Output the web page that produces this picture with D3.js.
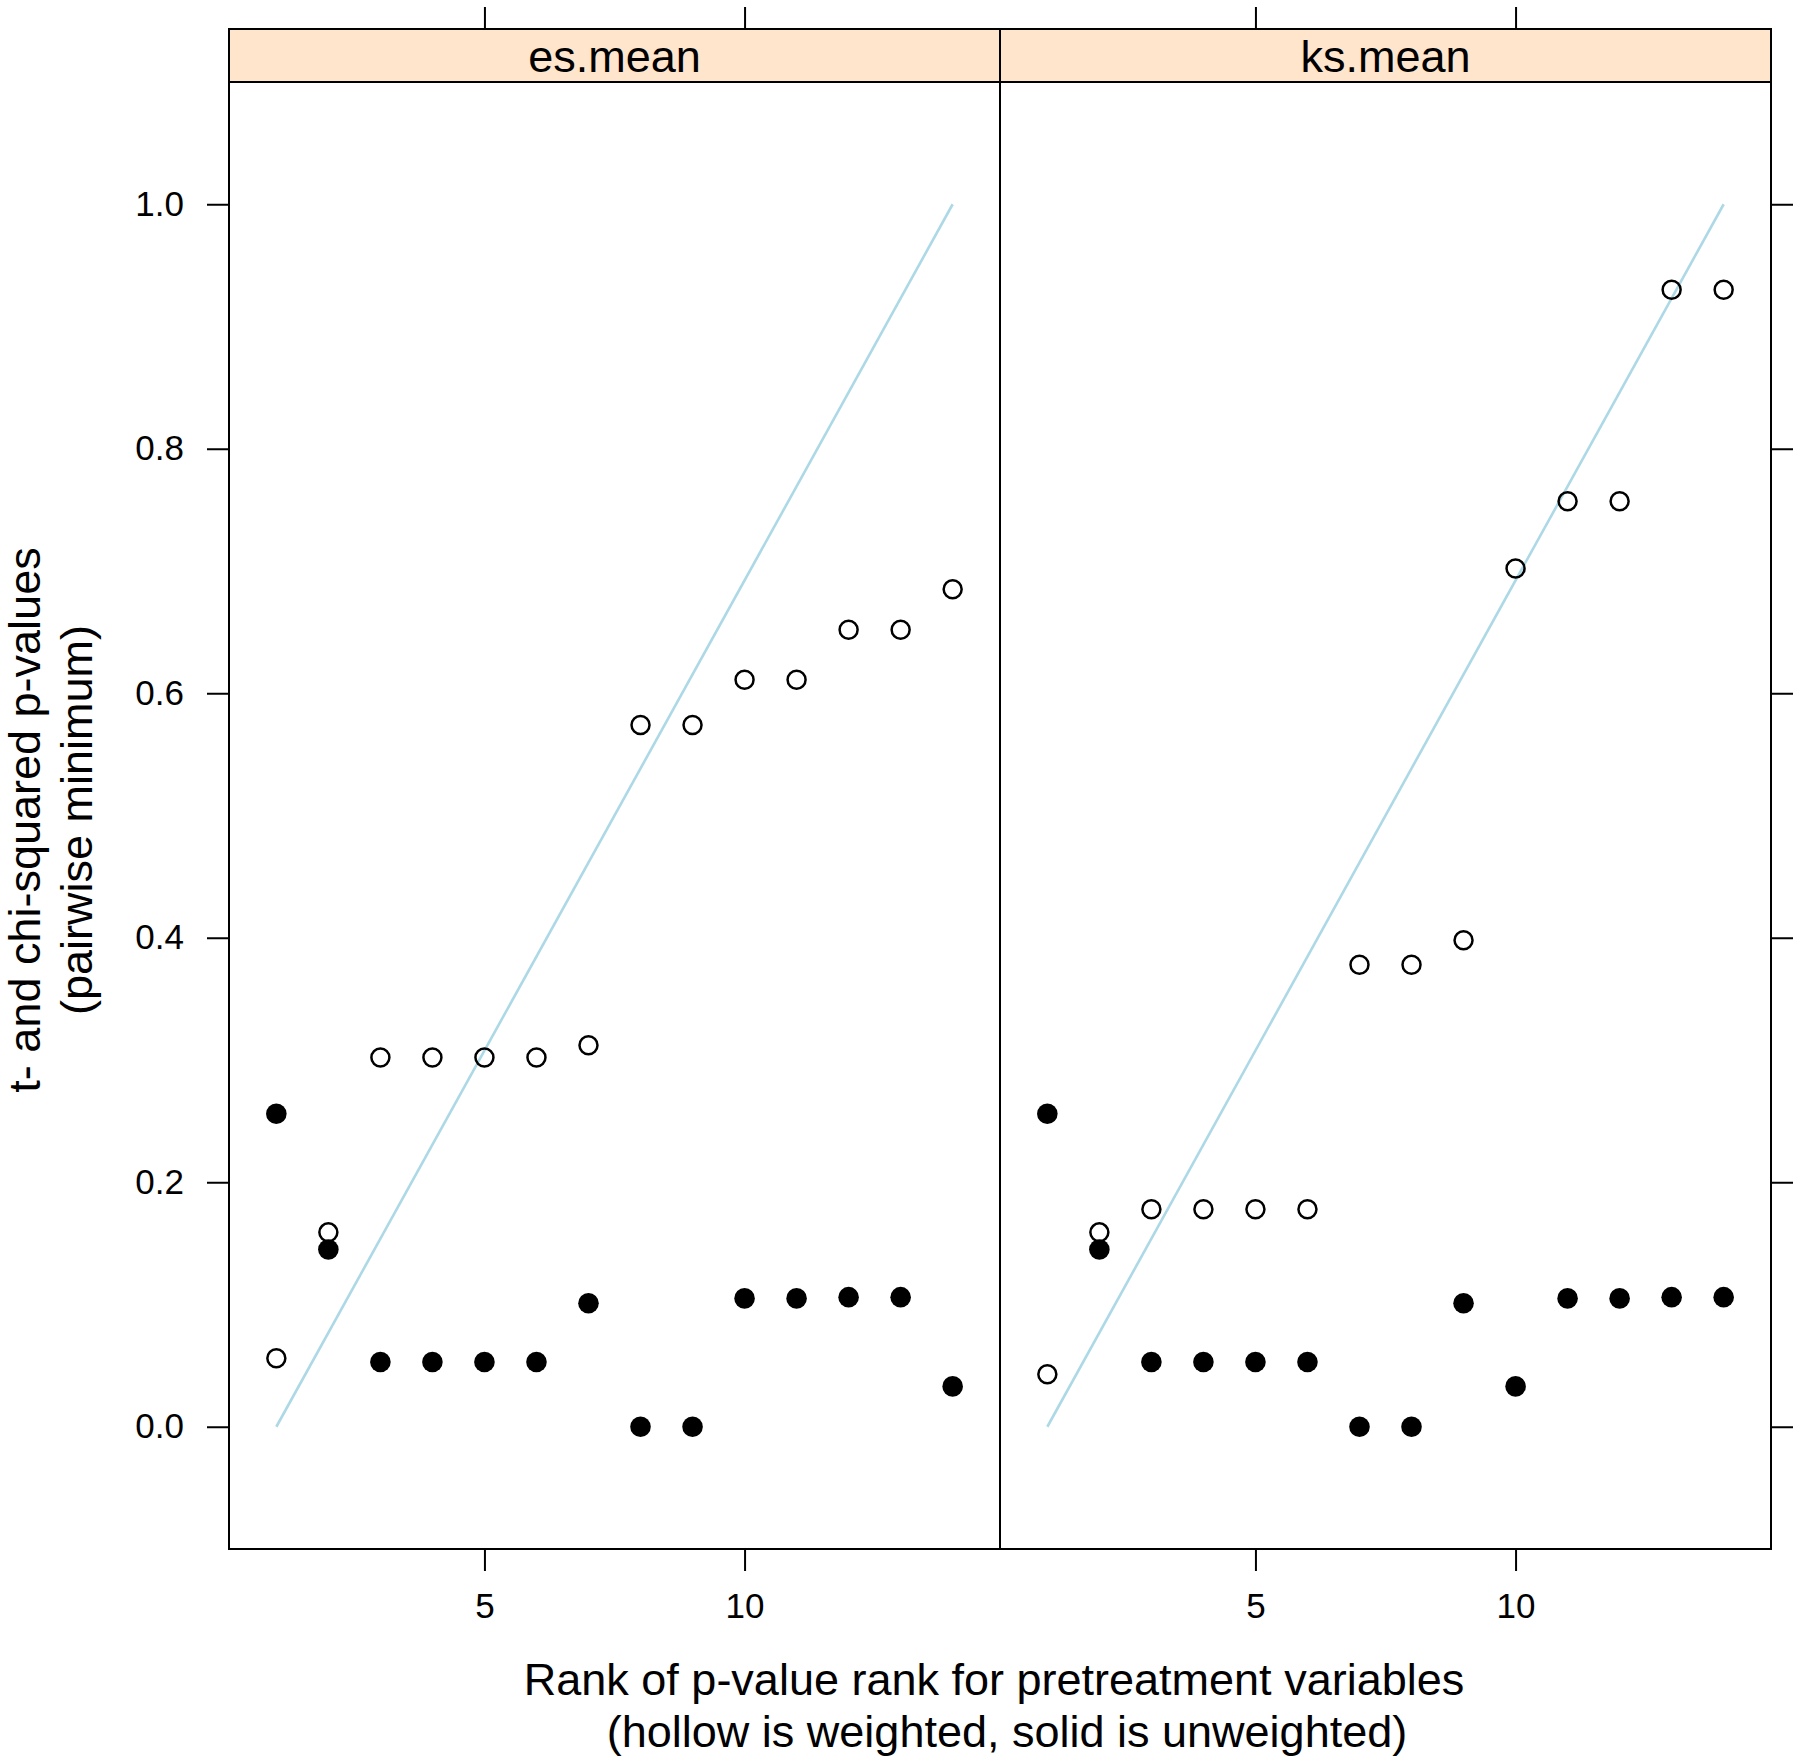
<!DOCTYPE html>
<html>
<head>
<meta charset="utf-8">
<script src="https://cdn.jsdelivr.net/npm/d3@7"></script>
<style>
  html, body { margin: 0; padding: 0; background: #ffffff; }
  svg { display: block; }
  text { font-family: "Liberation Sans", Arial, Helvetica, sans-serif; fill: #000; }
</style>
</head>
<body>
<svg id="chart" width="1800" height="1764"></svg>
<script>
// ---- Data ----
const panels = ["es.mean", "ks.mean"];
const ranks = [1, 2, 3, 4, 5, 6, 7, 8, 9, 10, 11, 12, 13, 14];
const esWeighted   = [0.056, 0.159, 0.302, 0.302, 0.302, 0.302, 0.312, 0.574, 0.574, 0.611, 0.611, 0.652, 0.652, 0.685];
const esUnweighted = [0.256, 0.145, 0.053, 0.053, 0.053, 0.053, 0.101, 0.000, 0.000, 0.105, 0.105, 0.106, 0.106, 0.033];
const ksWeighted   = [0.043, 0.159, 0.178, 0.178, 0.178, 0.178, 0.378, 0.378, 0.398, 0.702, 0.757, 0.757, 0.930, 0.930];
const ksUnweighted = [0.256, 0.145, 0.053, 0.053, 0.053, 0.053, 0.000, 0.000, 0.101, 0.033, 0.105, 0.105, 0.106, 0.106];
const refLine = [[1, 0], [14, 1]];
const xTicks = [5, 10];
const yTicks = [0.0, 0.2, 0.4, 0.6, 0.8, 1.0];
const xLabelLines = ["Rank of p-value rank for pretreatment variables", "(hollow is weighted, solid is unweighted)"];
const yLabelLines = ["t- and chi-squared p-values", "(pairwise minimum)"];

const weightedSeries = [esWeighted, ksWeighted];
const unweightedSeries = [esUnweighted, ksUnweighted];

// ---- Layout ----
const svg = d3.select("#chart");
const panelLefts = [229, 1000];
const panelW = 771;
const stripTop = 29, stripBottom = 82, panelBottom = 1549;
const tickLen = 22;

const y = d3.scaleLinear().domain([-0.1, 1.1]).range([panelBottom, stripBottom]);

panels.forEach((name, i) => {
  const x0 = panelLefts[i];
  const x = d3.scaleLinear().domain([0.09, 14.91]).range([x0, x0 + panelW]);
  const g = svg.append("g");

  // strip
  g.append("rect").attr("x", x0).attr("y", stripTop).attr("width", panelW)
    .attr("height", stripBottom - stripTop).attr("fill", "#ffe5cc")
    .attr("stroke", "#000").attr("stroke-width", 2);
  g.append("text").attr("x", x0 + panelW / 2).attr("y", 72)
    .attr("text-anchor", "middle").attr("font-size", 45).text(name);

  // reference line
  const line = d3.line().x(d => x(d[0])).y(d => y(d[1]));
  g.append("path").datum(refLine).attr("d", line).attr("fill", "none")
    .attr("stroke", "#add8e6").attr("stroke-width", 2.6);

  // hollow (weighted) points
  g.selectAll("circle.w").data(ranks.map((r, k) => [r, weightedSeries[i][k]]))
    .join("circle").attr("class", "w")
    .attr("cx", d => x(d[0])).attr("cy", d => y(d[1])).attr("r", 9)
    .attr("fill", "none").attr("stroke", "#000").attr("stroke-width", 2.5);

  // solid (unweighted) points
  g.selectAll("circle.u").data(ranks.map((r, k) => [r, unweightedSeries[i][k]]))
    .join("circle").attr("class", "u")
    .attr("cx", d => x(d[0])).attr("cy", d => y(d[1])).attr("r", 10.3)
    .attr("fill", "#000");

  // panel border
  g.append("rect").attr("x", x0).attr("y", stripBottom).attr("width", panelW)
    .attr("height", panelBottom - stripBottom).attr("fill", "none")
    .attr("stroke", "#000").attr("stroke-width", 2);

  // bottom axis
  const bAx = g.append("g").attr("transform", `translate(0,${panelBottom})`)
    .call(d3.axisBottom(x).tickValues(xTicks).tickSize(tickLen).tickPadding(22).tickFormat(d3.format("d")));
  // top axis (no labels)
  const tAx = g.append("g").attr("transform", `translate(0,${stripTop})`)
    .call(d3.axisTop(x).tickValues(xTicks).tickSize(tickLen).tickFormat(""));
  [bAx, tAx].forEach(a => {
    a.select(".domain").remove();
    a.selectAll("line").attr("stroke", "#000").attr("stroke-width", 2);
    a.selectAll("text").attr("font-size", 35).attr("font-family", null).attr("fill", "#000");
  });

  if (i === 0) {
    const lAx = g.append("g").attr("transform", `translate(${x0},0)`)
      .call(d3.axisLeft(y).tickValues(yTicks).tickSize(tickLen).tickPadding(23).tickFormat(d3.format(".1f")));
    lAx.select(".domain").remove();
    lAx.selectAll("line").attr("stroke", "#000").attr("stroke-width", 2);
    lAx.selectAll("text").attr("font-size", 35).attr("font-family", null).attr("fill", "#000");
  } else {
    const rAx = g.append("g").attr("transform", `translate(${x0 + panelW},0)`)
      .call(d3.axisRight(y).tickValues(yTicks).tickSize(tickLen).tickFormat(""));
    rAx.select(".domain").remove();
    rAx.selectAll("line").attr("stroke", "#000").attr("stroke-width", 2);
  }
});

// x-axis title
const xCenters = [994, 1007];
xLabelLines.forEach((t, k) => {
  svg.append("text").attr("x", xCenters[k]).attr("y", 1695 + k * 52)
    .attr("text-anchor", "middle").attr("font-size", 45).text(t);
});

// y-axis title
const yCenter = 820;
yLabelLines.forEach((t, k) => {
  svg.append("text")
    .attr("transform", `translate(${40 + k * 52},${yCenter}) rotate(-90)`)
    .attr("text-anchor", "middle").attr("font-size", 45).text(t);
});
</script>
</body>
</html>
